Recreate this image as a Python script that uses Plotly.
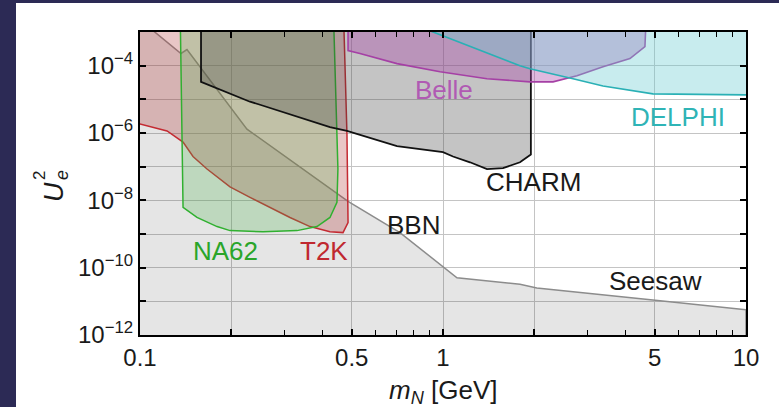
import plotly.graph_objects as go

# ---------------- data (mass in GeV, U_e^2) ----------------
bbn_mass = [0.1, 0.1104, 0.1365, 0.1429, 0.2254, 0.486, 0.721, 0.978, 1.112, 1.795, 2.04, 4.93, 10.0]
bbn_u2 = [2.5e-3, 1.1e-3, 2.3e-4, 3.0e-4, 1.3e-6, 9.3e-9, 1.1e-9, 1.2e-10, 5.0e-11, 3.2e-11, 2.5e-11, 1.1e-11, 5.6e-12]

t2k_mass = [0.09, 0.09, 0.1, 0.1228, 0.1387, 0.1496, 0.1664, 0.1982, 0.2307, 0.2748, 0.3126, 0.364, 0.4236, 0.4677, 0.486, 0.482, 0.468]
t2k_u2 = [1e-2, 1.9e-6, 1.86e-6, 1.15e-6, 5.4e-7, 2.0e-7, 8.5e-8, 2.5e-8, 1.23e-8, 5.4e-9, 3.1e-9, 1.66e-9, 1.17e-9, 1.1e-9, 2.2e-9, 9.3e-7, 1e-2]

na62_mass = [0.1355, 0.1376, 0.1387, 0.1542, 0.1796, 0.1982, 0.2547, 0.3297, 0.3838, 0.4236, 0.4467, 0.450, 0.4433, 0.4335]
na62_u2 = [1e-2, 6.6e-7, 6.2e-9, 3.1e-9, 1.66e-9, 1.26e-9, 1.17e-9, 1.26e-9, 1.66e-9, 3.1e-9, 8.7e-9, 8.5e-8, 1.0e-5, 1e-2]

charm_mass = [0.159, 0.159, 0.2307, 0.249, 0.4236, 0.482, 0.705, 1.0, 1.079, 1.228, 1.397, 1.578, 1.795, 1.95, 1.95]
charm_u2 = [1e-2, 3.3e-5, 8.5e-6, 6.9e-6, 1.5e-6, 1.15e-6, 4.1e-7, 2.7e-7, 2.0e-7, 1.35e-7, 8.5e-8, 9.1e-8, 1.35e-7, 2.3e-7, 1e-2]

belle_mass = [0.486, 0.486, 0.532, 0.705, 0.978, 1.397, 1.937, 2.307, 2.768, 3.374, 4.14, 4.64, 4.71]
belle_u2 = [1e-2, 2.8e-4, 2.3e-4, 1.15e-4, 6.6e-5, 4.1e-5, 3.3e-5, 3.3e-5, 5.0e-5, 9.3e-5, 1.62e-4, 3.7e-4, 1e-2]

delphi_mass = [0.80, 0.88, 1.795, 1.937, 2.686, 3.374, 4.93, 11.0, 11.0]
delphi_u2 = [1e-2, 1.2e-3, 1.0e-4, 8.1e-5, 4.1e-5, 2.5e-5, 1.45e-5, 1.35e-5, 1e-2]

x_tickvals = [0.1, 0.2, 0.5, 1, 2, 5, 10]
x_ticktext = ["0.1", "", "0.5", "1", "", "5", "10"]
x_minor = [0.3, 0.4, 0.6, 0.7, 0.8, 0.9, 3, 4, 6, 7, 8, 9]
y_exponents = [-12, -11, -10, -9, -8, -7, -6, -5, -4, -3]
y_labelled = [-12, -10, -8, -6, -4]

# ---------------- layout geometry (pixels) ----------------
W, H = 779, 407
ML, MR, MT, MB = 140, 33, 32, 72
PW, PH = W - ML - MR, H - MT - MB


def px(xp):
    return (xp - ML) / PW


def py(yp):
    return (H - MB - yp) / PH


FONT = "Liberation Sans, Arial, Helvetica, sans-serif"
INK = "#1a1a1a"
DARK = "#2c2a55"
fig = go.Figure()

# BBN / Seesaw region
fig.add_trace(go.Scatter(
    x=bbn_mass + [bbn_mass[-1], bbn_mass[0]],
    y=bbn_u2 + [1e-13, 1e-13],
    mode="lines", fill="toself", fillcolor="rgba(0,0,0,0.10)",
    line=dict(color="#8c8c8c", width=1.5), hoverinfo="skip", showlegend=False))

fig.add_trace(go.Scatter(
    x=t2k_mass, y=t2k_u2, mode="lines", fill="toself",
    fillcolor="rgba(175,50,50,0.28)", line=dict(color="#c42a32", width=1.5),
    hoverinfo="skip", showlegend=False))

fig.add_trace(go.Scatter(
    x=na62_mass, y=na62_u2, mode="lines", fill="toself",
    fillcolor="rgba(80,180,80,0.26)", line=dict(color="#30b030", width=1.5),
    hoverinfo="skip", showlegend=False))

fig.add_trace(go.Scatter(
    x=charm_mass, y=charm_u2, mode="lines", fill="toself",
    fillcolor="rgba(60,60,60,0.30)", line=dict(color="#111111", width=1.8),
    hoverinfo="skip", showlegend=False))

fig.add_trace(go.Scatter(
    x=belle_mass, y=belle_u2, mode="lines", fill="toself",
    fillcolor="rgba(170,70,170,0.38)", line=dict(color="#a540a5", width=1.6),
    hoverinfo="skip", showlegend=False))

fig.add_trace(go.Scatter(
    x=delphi_mass, y=delphi_u2, mode="lines", fill="toself",
    fillcolor="rgba(110,205,210,0.38)", line=dict(color="#2ab0b5", width=1.6),
    hoverinfo="skip", showlegend=False))

# labels
labels = [
    ("Belle", 444, 90, "#b05ab3"),
    ("DELPHI", 678, 117, "#2fb4b6"),
    ("CHARM", 533, 182, INK),
    ("BBN", 413, 225, INK),
    ("T2K", 324, 251, "#c0282f"),
    ("NA62", 225, 251, "#2aa52a"),
    ("Seesaw", 655, 281, INK),
]
for txt, xp, yp, col in labels:
    fig.add_annotation(x=px(xp), y=py(yp), xref="paper", yref="paper", text=txt,
                       showarrow=False, font=dict(family=FONT, size=26, color=col),
                       xanchor="center", yanchor="middle")

# x-axis title
fig.add_annotation(x=px(443), y=py(391), xref="paper", yref="paper",
                   text="<i>m</i><sub><i>N</i></sub> [GeV]", showarrow=False,
                   font=dict(family=FONT, size=26, color=INK),
                   xanchor="center", yanchor="middle")

# y-axis title U_e^2 (rotated)
fig.add_annotation(x=px(54), y=py(192), xref="paper", yref="paper", text="<i>U</i>",
                   showarrow=False, textangle=-90,
                   font=dict(family=FONT, size=27, color=INK),
                   xanchor="center", yanchor="middle")
fig.add_annotation(x=px(39), y=py(176), xref="paper", yref="paper", text="2",
                   showarrow=False, textangle=-90,
                   font=dict(family=FONT, size=17, color=INK),
                   xanchor="center", yanchor="middle")
fig.add_annotation(x=px(62), y=py(175), xref="paper", yref="paper", text="<i>e</i>",
                   showarrow=False, textangle=-90,
                   font=dict(family=FONT, size=18, color=INK),
                   xanchor="center", yanchor="middle")

# dark frame strips (left and top) of the original slide
fig.add_shape(type="rect", xref="paper", yref="paper",
              x0=px(-5), x1=px(16), y0=py(H + 5), y1=py(-5),
              fillcolor=DARK, line=dict(width=0), layer="below")
fig.add_shape(type="rect", xref="paper", yref="paper",
              x0=px(-5), x1=px(W + 5), y0=py(3), y1=py(-5),
              fillcolor=DARK, line=dict(width=0), layer="below")

axis_common = dict(
    type="log", showline=True, linecolor="black", linewidth=2, mirror="allticks",
    ticks="inside", tickcolor="black", tickwidth=1.5, ticklen=6,
    showgrid=True, gridcolor="#c4c4c4", gridwidth=1, zeroline=False,
    tickfont=dict(family=FONT, size=24, color=INK), automargin=False,
)

fig.update_xaxes(
    range=[-1, 1], tickmode="array", tickvals=x_tickvals, ticktext=x_ticktext,
    minor=dict(tickvals=x_minor, ticks="inside", ticklen=5, tickcolor="black",
               tickwidth=1.2, showgrid=False),
    **axis_common)

fig.update_yaxes(
    range=[-12, -3], tickmode="array",
    tickvals=[10.0 ** e for e in y_exponents],
    ticktext=[("10<sup>\u2212%d</sup>" % (-e)) if e in y_labelled else "" for e in y_exponents],
    **axis_common)

fig.update_layout(
    width=W, height=H,
    margin=dict(l=ML, r=MR, t=MT, b=MB, pad=0),
    paper_bgcolor="white", plot_bgcolor="white",
    font=dict(family=FONT, color=INK),
    showlegend=False,
)

fig.write_html(
    "out.html", include_plotlyjs=True, config={"displayModeBar": False},
    post_script="document.body.style.margin='0';document.body.style.overflow='hidden';"
                "document.documentElement.style.overflow='hidden';",
)
